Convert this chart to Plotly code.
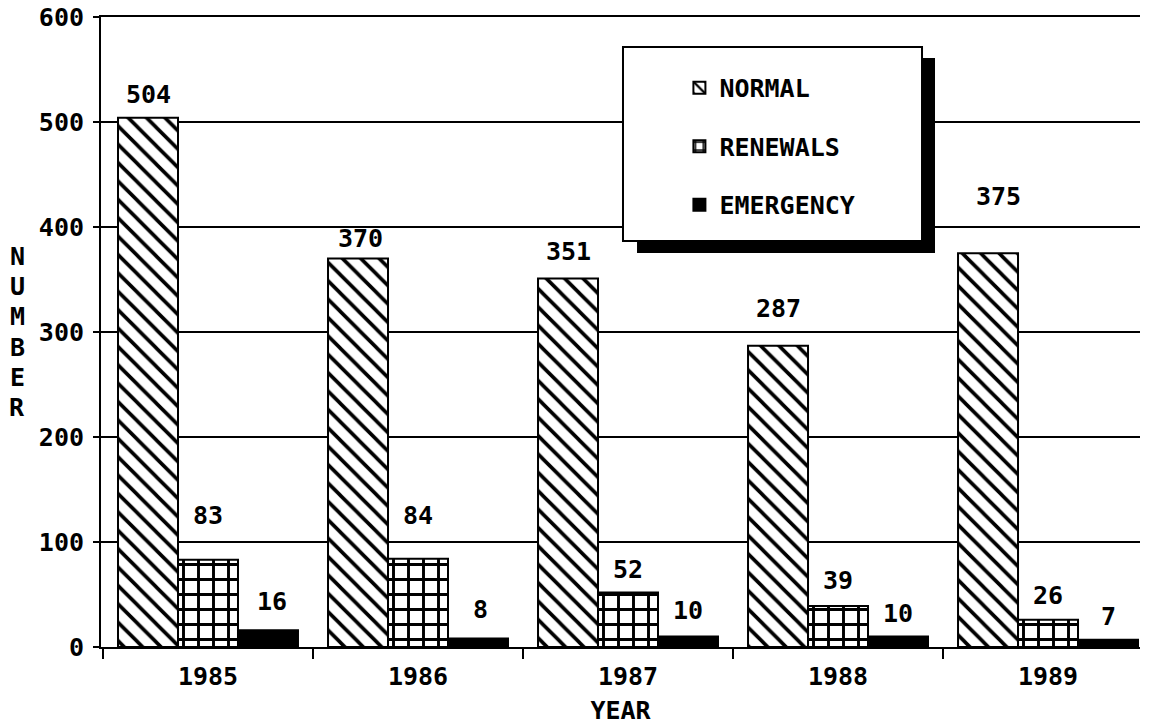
import plotly.graph_objects as go

years = ["1985", "1986", "1987", "1988", "1989"]
normal = [504, 370, 351, 287, 375]
renewals = [83, 84, 52, 39, 26]
emergency = [16, 8, 10, 10, 7]
series_names = ["NORMAL", "RENEWALS", "EMERGENCY"]
y_ticks = [0, 100, 200, 300, 400, 500, 600]
y_title = "NUMBER"

# label styling: pixel lift of each value label above its bar top
label_lift = [
    [23, 20, 27, 37, 57],
    [44, 43, 23, 26, 24],
    [29, 29, 26, 23, 23],
]
label_xshift = [
    [0, 2, 0, 0, 10],
    [0, 0, 0, 0, 0],
    [4, 3, 0, 0, 0],
]

FONT = "DejaVu Sans Mono"
FS = 25
BARGAP = 0.143

fig = go.Figure()
styles = [
    dict(marker=dict(color="white", line=dict(color="black", width=2),
                     pattern=dict(shape="\\", fgcolor="black", bgcolor="white",
                                  size=13, solidity=0.28, fgopacity=1,
                                  fillmode="overlay"))),
    dict(marker=dict(color="white", line=dict(color="black", width=2),
                     pattern=dict(shape="+", fgcolor="black", bgcolor="white",
                                  size=15, solidity=0.35, fgopacity=1,
                                  fillmode="overlay"))),
    dict(marker=dict(color="black", line=dict(color="black", width=2))),
]
all_vals = [normal, renewals, emergency]
for i, (name, vals) in enumerate(zip(series_names, all_vals)):
    fig.add_trace(go.Bar(x=years, y=vals, name=name, legendgroup=name, **styles[i]))

# value labels
bw = (1 - BARGAP) / 3
annotations = []
for i, vals in enumerate(all_vals):
    off = (i - 1) * bw
    for j, v in enumerate(vals):
        annotations.append(dict(
            x=j + off, y=v, xref="x", yref="y", text=str(v), showarrow=False,
            xanchor="center", yanchor="middle", yshift=label_lift[i][j],
            xshift=label_xshift[i][j],
            font=dict(family=FONT, size=FS, color="black", weight="bold")))

# stacked vertical y title, one letter per line
n = len(y_title)
for k, ch in enumerate(y_title):
    annotations.append(dict(
        x=-0.0808, y=0.5, xref="paper", yref="paper", showarrow=False,
        text=ch, xanchor="center", yanchor="middle",
        yshift=-(k - (n - 1) / 2) * 30.2,
        font=dict(family=FONT, size=FS, color="black", weight="bold")))

shapes = [
    # legend shadow
    dict(type="rect", xref="paper", yref="paper", x0=0.5159, x1=0.8027,
         y0=0.6254, y1=0.9349, fillcolor="black", line=dict(width=0), layer="above"),
    # legend box
    dict(type="rect", xref="paper", yref="paper", x0=0.5024, x1=0.7902,
         y0=0.6444, y1=0.9524, fillcolor="white",
         line=dict(color="black", width=2), layer="above"),
]

fig.update_layout(
    width=1150, height=725,
    margin=dict(l=101, r=10, t=17, b=78),
    paper_bgcolor="white", plot_bgcolor="white",
    barmode="group", bargap=BARGAP, bargroupgap=0,
    font=dict(family=FONT, size=FS, color="black", weight="bold"),
    annotations=annotations, shapes=shapes,
    legend=dict(x=0.5567, y=0.924, xanchor="left", yanchor="top",
                bgcolor="rgba(0,0,0,0)", borderwidth=0,
                tracegroupgap=23, font=dict(family=FONT, size=FS, color="black", weight="bold")),
    xaxis=dict(range=[-0.5095, 4.438], showgrid=False, showline=True, mirror=True,
               linecolor="black", linewidth=2, ticks="outside", ticklen=10,
               tickwidth=2, tickcolor="black", tickson="boundaries",
               ticklabelstandoff=6, automargin=False,
               title=dict(text="YEAR", standoff=14,
                          font=dict(family=FONT, size=FS, color="black", weight="bold"))),
    yaxis=dict(range=[0, 600], tickvals=y_ticks, showgrid=True, gridcolor="black",
               gridwidth=2, showline=True, linecolor="black", linewidth=2,
               ticks="outside", ticklen=6, tickwidth=2, tickcolor="black",
               zeroline=False, ticklabelstandoff=4, automargin=False,
               ticklabeloverflow="allow"),
)

fig.write_html("out.html", config={"displayModeBar": False},
               post_script="document.body.style.margin='0px';document.body.style.overflow='hidden';")
